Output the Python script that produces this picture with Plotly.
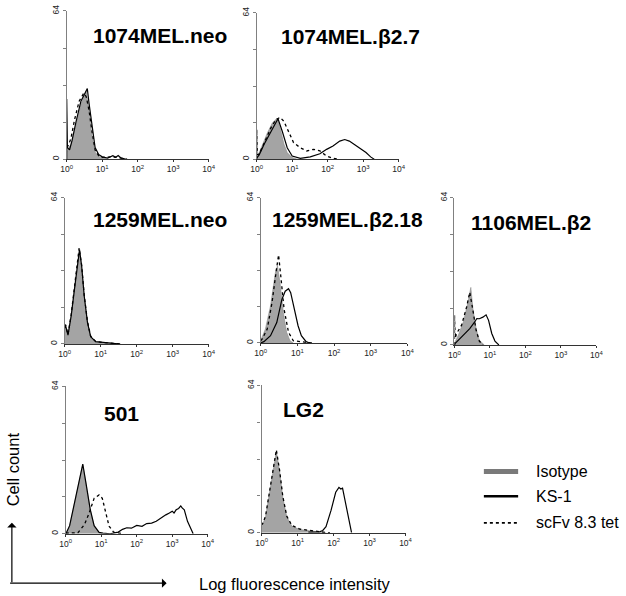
import plotly.graph_objects as go

W, H = 626, 596

# ---------------- data (x in log10 fluorescence units, y = cell count) ----------------
PANEL_TITLES = ["1074MEL.neo", "1074MEL.β2.7", "1259MEL.neo", "1259MEL.β2.18",
                "1106MEL.β2", "501", "LG2"]
SERIES_NAMES = ["Isotype", "KS-1", "scFv 8.3 tet"]
X_TICK_TEXT = ["10<sup>0</sup>", "10<sup>1</sup>", "10<sup>2</sup>", "10<sup>3</sup>", "10<sup>4</sup>"]
X_TICK_VALS = [1, 10, 100, 1000, 10000]
Y_TICK_VALS = [0, 64]
Y_TICK_TEXT = ["0", "64"]
Y_MINOR_TICKS = [16, 32, 48]

# 1074MEL.neo
P1_ISO_X = [0.0, 0.03, 0.12, 0.26, 0.40, 0.49, 0.55, 0.63, 0.72, 0.81, 0.95, 1.14]
P1_ISO_Y = [3, 4.3, 6.4, 14.9, 23.5, 27.5, 29.4, 20.6, 9.2, 2.8, 0.7, 0]
P1_KS_X = [0.0, 0.0, 0.02, 0.08, 0.15, 0.26, 0.40, 0.50, 0.58, 0.63, 0.72, 0.80, 0.90, 1.0, 1.15, 1.3, 1.38, 1.45, 1.52, 1.65]
P1_KS_Y = [0, 26, 5, 4, 8, 16, 25, 28, 30.5, 24, 13, 5, 2, 1, 0.5, 1.5, 0.8, 1.6, 0.6, 0]
P1_SC_X = [0.0, 0.05, 0.12, 0.22, 0.35, 0.48, 0.55, 0.63, 0.72, 0.80, 0.90, 1.0, 1.3, 1.5, 1.7]
P1_SC_Y = [5, 6, 9, 17, 25, 28.5, 27, 21, 11, 4, 1.5, 0.8, 1, 0.5, 0]

# 1074MEL.β2.7
P2_ISO_X = [0.0, 0.03, 0.17, 0.30, 0.44, 0.58, 0.67, 0.77, 0.86, 1.0, 1.14]
P2_ISO_Y = [1, 1.4, 6.5, 11.5, 15.8, 18, 13, 6.5, 2.9, 0.7, 0]
P2_KS_X = [0.0, 0.07, 0.21, 0.40, 0.54, 0.60, 0.72, 0.86, 1.0, 1.23, 1.51, 1.78, 1.97, 2.15, 2.34, 2.48, 2.61, 2.75, 2.89, 3.08, 3.21, 3.31]
P2_KS_Y = [0.5, 1.9, 6.5, 12.2, 16.5, 17.7, 12.2, 5, 1.4, 0.4, 1, 2.4, 4.3, 5.8, 7.9, 8.6, 7.9, 6.5, 5, 2.9, 1, 0]
P2_SC_X = [0.0, 0.0, 0.02, 0.07, 0.21, 0.40, 0.54, 0.66, 0.77, 0.91, 1.04, 1.23, 1.41, 1.60, 1.78, 1.97, 2.15, 2.34]
P2_SC_Y = [0, 13, 2, 2.2, 7.2, 13.7, 17.3, 18.3, 16.5, 11.5, 7.2, 5, 3.6, 4.3, 3.6, 1.4, 0.4, 0]

# 1259MEL.neo
P3_ISO_X = [0.0, 0.02, 0.09, 0.18, 0.27, 0.36, 0.41, 0.47, 0.54, 0.63, 0.72, 0.86, 1.09, 1.54]
P3_ISO_Y = [6, 7.5, 3.9, 12, 23.5, 36, 40, 33, 20.5, 9.2, 3, 0.9, 0.5, 0]
P3_KS_X = [0.0, 0.02, 0.09, 0.18, 0.27, 0.36, 0.41, 0.47, 0.54, 0.63, 0.72, 0.86, 1.09, 1.54]
P3_KS_Y = [7, 8.2, 3.9, 12.5, 24, 37, 41.3, 34.1, 21.2, 9.6, 3.2, 1, 0.6, 0]
P3_SC_X = [0.0, 0.02, 0.09, 0.18, 0.27, 0.36, 0.40, 0.47, 0.54, 0.63, 0.72, 0.86, 1.09, 1.54]
P3_SC_Y = [8, 8.5, 4.2, 13, 25, 38, 42, 34.5, 21.5, 10, 3.4, 1.1, 0.6, 0]

# 1259MEL.β2.18
P4_ISO_X = [0.0, 0.02, 0.13, 0.27, 0.40, 0.46, 0.53, 0.62, 0.71, 0.80, 0.89]
P4_ISO_Y = [1, 1.7, 6.1, 16.3, 30.8, 34, 26.5, 13.4, 4.7, 1, 0]
P4_KS_X = [0.0, 0.09, 0.27, 0.44, 0.58, 0.67, 0.76, 0.82, 0.84, 0.93, 1.02, 1.11, 1.24, 1.33]
P4_KS_Y = [0, 0.6, 3.2, 9, 19.2, 22.8, 23.9, 22.1, 20.7, 14.1, 7.6, 3.2, 0.6, 0]
P4_SC_X = [0.0, 0.04, 0.18, 0.31, 0.43, 0.49, 0.55, 0.64, 0.76, 0.89, 1.24, 1.42]
P4_SC_Y = [1, 1.7, 6.1, 17.7, 32.3, 38.8, 29.4, 14.8, 4.7, 1, 0.3, 0]

# 1106MEL.β2
P5_ISO_X = [0.0, 0.02, 0.11, 0.25, 0.38, 0.46, 0.52, 0.61, 0.70, 0.80, 0.84]
P5_ISO_Y = [1, 1.4, 4.3, 10, 18.6, 25, 15.7, 7.1, 2.1, 0.3, 0]
P5_KS_X = [0.0, 0.02, 0.16, 0.29, 0.43, 0.57, 0.63, 0.70, 0.80, 0.89, 0.96, 1.05, 1.14, 1.25]
P5_KS_Y = [0, 0.7, 2.9, 5, 7.1, 10, 11.5, 11.4, 12.1, 13.1, 10.7, 5, 1.7, 0]
P5_SC_X = [0.0, 0.0, 0.02, 0.06, 0.20, 0.34, 0.43, 0.52, 0.61, 0.70, 0.80]
P5_SC_Y = [0, 13, 3, 5, 8.6, 16.4, 22.9, 15, 6.4, 1.7, 0]

# 501
P6_ISO_X = [0.0, 0.02, 0.11, 0.25, 0.39, 0.48, 0.57, 0.69, 0.80, 0.94, 1.03]
P6_ISO_Y = [0.3, 0.4, 3.3, 13.3, 24.7, 30, 21.9, 10.4, 3.3, 0.4, 0]
P6_KS_X = [0.0, 0.02, 0.11, 0.25, 0.39, 0.48, 0.57, 0.69, 0.80, 0.94, 1.05, 1.25, 1.48, 1.6, 1.72,
           1.85, 2.0, 2.15, 2.28, 2.42, 2.55, 2.65, 2.74, 2.82, 2.92, 3.0, 3.05, 3.11, 3.18, 3.24,
           3.28, 3.34, 3.43, 3.52, 3.59]
P6_KS_Y = [0.3, 0.5, 3.5, 13.5, 25, 30.3, 22, 10.6, 3.5, 0.6, 0.3, 0, 0.7, 1.9, 2.6,
           2.4, 3.6, 3.2, 4.4, 4.6, 5.4, 6.5, 7.6, 8.2, 9, 9.8, 9.0, 10.4, 11.0, 12.1,
           11.2, 10.4, 5.4, 1.9, 0]
P6_SC_X = [0.0, 0.34, 0.53, 0.66, 0.80, 0.94, 1.03, 1.12, 1.22, 1.35, 1.63]
P6_SC_Y = [0.3, 0.4, 4, 9, 15.4, 16.9, 15.4, 9, 3.3, 0.7, 0]

# LG2
P7_ISO_X = [0.0, 0.02, 0.11, 0.20, 0.32, 0.41, 0.50, 0.59, 0.70, 0.84, 1.06, 1.34, 1.61, 1.79]
P7_ISO_Y = [3, 3.3, 6.9, 15.4, 28.3, 35.4, 26.9, 15.4, 6.9, 2.9, 1.4, 0.7, 0.3, 0]
P7_KS_X = [1.3, 1.61, 1.70, 1.79, 1.93, 2.06, 2.15, 2.20, 2.25, 2.34, 2.43, 2.50]
P7_KS_Y = [0.3, 0.4, 1.0, 2.6, 9.7, 17.6, 19.7, 19, 19.4, 12.6, 5.4, 0]
P7_SC_X = [0.0, 0.02, 0.11, 0.20, 0.32, 0.41, 0.50, 0.59, 0.70, 0.84, 1.06, 1.34, 1.61, 1.79, 1.9]
P7_SC_Y = [4, 3.6, 7.2, 15.8, 28.6, 36, 27.2, 15.8, 7.2, 3.2, 1.6, 0.9, 0.4, 0.1, 0]

PANELS = [
    (P1_ISO_X, P1_ISO_Y, P1_KS_X, P1_KS_Y, P1_SC_X, P1_SC_Y),
    (P2_ISO_X, P2_ISO_Y, P2_KS_X, P2_KS_Y, P2_SC_X, P2_SC_Y),
    (P3_ISO_X, P3_ISO_Y, P3_KS_X, P3_KS_Y, P3_SC_X, P3_SC_Y),
    (P4_ISO_X, P4_ISO_Y, P4_KS_X, P4_KS_Y, P4_SC_X, P4_SC_Y),
    (P5_ISO_X, P5_ISO_Y, P5_KS_X, P5_KS_Y, P5_SC_X, P5_SC_Y),
    (P6_ISO_X, P6_ISO_Y, P6_KS_X, P6_KS_Y, P6_SC_X, P6_SC_Y),
    (P7_ISO_X, P7_ISO_Y, P7_KS_X, P7_KS_Y, P7_SC_X, P7_SC_Y),
]

# ---------------- layout (pixel boxes: x_left, x_right, y_top, y_bottom) ----------------
BOXES = [(62, 207, 5, 155), (256, 401, 7, 155),
         (60, 207, 194, 342), (260, 410, 194, 341), (458, 603, 194, 343),
         (61, 206, 385, 534), (261, 408, 384, 533)]
TITLE_POS = [(157, 30), (352, 31), (157, 216), (349, 216), (536, 219), (118, 412), (304, 408)]

FONT = "Arial, 'Liberation Sans', Helvetica, sans-serif"
ISO_FILL = "#a4a4a4"


def px(x):
    return x / W


def py(y):
    return 1 - y / H


fig = go.Figure()
layout = dict(
    width=W, height=H, margin=dict(l=0, r=0, t=0, b=0),
    paper_bgcolor="white", plot_bgcolor="white", showlegend=False,
    font=dict(family=FONT, color="black"),
)

for i, (ix, iy, kx, ky, sx, sy) in enumerate(PANELS):
    n = "" if i == 0 else str(i + 1)
    xa, ya = "x" + n, "y" + n
    fig.add_trace(go.Scatter(x=[10 ** v for v in ix], y=iy, xaxis=xa, yaxis=ya, mode="lines",
                             fill="tozeroy", fillcolor=ISO_FILL,
                             line=dict(color="#8c8c8c", width=0.6), name=SERIES_NAMES[0]))
    fig.add_trace(go.Scatter(x=[10 ** v for v in kx], y=ky, xaxis=xa, yaxis=ya, mode="lines",
                             line=dict(color="black", width=1.2), name=SERIES_NAMES[1]))
    fig.add_trace(go.Scatter(x=[10 ** v for v in sx], y=sy, xaxis=xa, yaxis=ya, mode="lines",
                             line=dict(color="black", width=1.3, dash="dot"), name=SERIES_NAMES[2]))
    x0, x1, y0, y1 = BOXES[i]
    layout["xaxis" + n] = dict(
        domain=[px(x0), px(x1)], anchor=ya, type="log", range=[0, 4],
        showgrid=False, zeroline=False, showline=True, linecolor="#333", linewidth=1,
        ticks="outside", ticklen=2, tickcolor="#333",
        tickvals=X_TICK_VALS, ticktext=X_TICK_TEXT, tickfont=dict(size=8.5, color="#222"),
        fixedrange=True,
    )
    layout["yaxis" + n] = dict(
        domain=[py(y1), py(y0)], anchor=xa, range=[0, 64],
        showgrid=False, zeroline=False, showline=True, linecolor="#808080", linewidth=1.2,
        ticks="outside", ticklen=3, tickcolor="#808080",
        tickvals=Y_TICK_VALS, ticktext=Y_TICK_TEXT, tickangle=-90,
        minor=dict(tickvals=Y_MINOR_TICKS, ticks="outside", ticklen=3, tickcolor="#808080",
                   showgrid=False),
        tickfont=dict(size=8.5, color="#222"), fixedrange=True,
    )

fig.update_layout(**layout)

annotations = []
for t, (cx, cy) in zip(PANEL_TITLES, TITLE_POS):
    annotations.append(dict(text="<b>%s</b>" % t, x=px(cx), y=py(cy), xref="paper", yref="paper",
                            showarrow=False, xanchor="center", yanchor="middle",
                            font=dict(size=21, family=FONT, color="black")))

# legend
LEG_Y = [471, 496, 523]
for name, ly in zip(SERIES_NAMES, LEG_Y):
    annotations.append(dict(text=name, x=px(539), y=py(ly), xref="paper", yref="paper",
                            showarrow=False, xanchor="left", yanchor="middle",
                            font=dict(size=16, family=FONT, color="black")))
shapes = [
    dict(type="line", xref="paper", yref="paper", x0=px(488), x1=px(523), y0=py(471), y1=py(471),
         line=dict(color="#7a7a7a", width=5)),
    dict(type="line", xref="paper", yref="paper", x0=px(488), x1=px(523), y0=py(496), y1=py(496),
         line=dict(color="black", width=2.5)),
    dict(type="line", xref="paper", yref="paper", x0=px(488), x1=px(523), y0=py(523), y1=py(523),
         line=dict(color="black", width=1.6, dash="dot")),
]

# axis description arrows
annotations.append(dict(x=px(6), y=py(523), xref="paper", yref="paper", ax=0, ay=61,
                        showarrow=True, arrowhead=1, arrowsize=1.3, arrowwidth=1.2,
                        arrowcolor="black", text=""))
annotations.append(dict(x=px(164), y=py(584), xref="paper", yref="paper", ax=-158, ay=0,
                        showarrow=True, arrowhead=1, arrowsize=1.3, arrowwidth=1.2,
                        arrowcolor="black", text=""))
annotations.append(dict(text="Cell count", x=px(8), y=py(469), xref="paper", yref="paper",
                        showarrow=False, textangle=-90, xanchor="center", yanchor="middle",
                        font=dict(size=16.5, family=FONT, color="black")))
annotations.append(dict(text="Log fluorescence intensity", x=px(195), y=py(585), xref="paper",
                        yref="paper", showarrow=False, xanchor="left", yanchor="middle",
                        font=dict(size=16.5, family=FONT, color="black")))

fig.update_layout(annotations=annotations, shapes=shapes)
fig.write_html("out.html",
               config={"displayModeBar": False},
               post_script="document.body.style.margin='0';document.body.style.padding='0';"
                           "document.documentElement.style.overflow='hidden';")
